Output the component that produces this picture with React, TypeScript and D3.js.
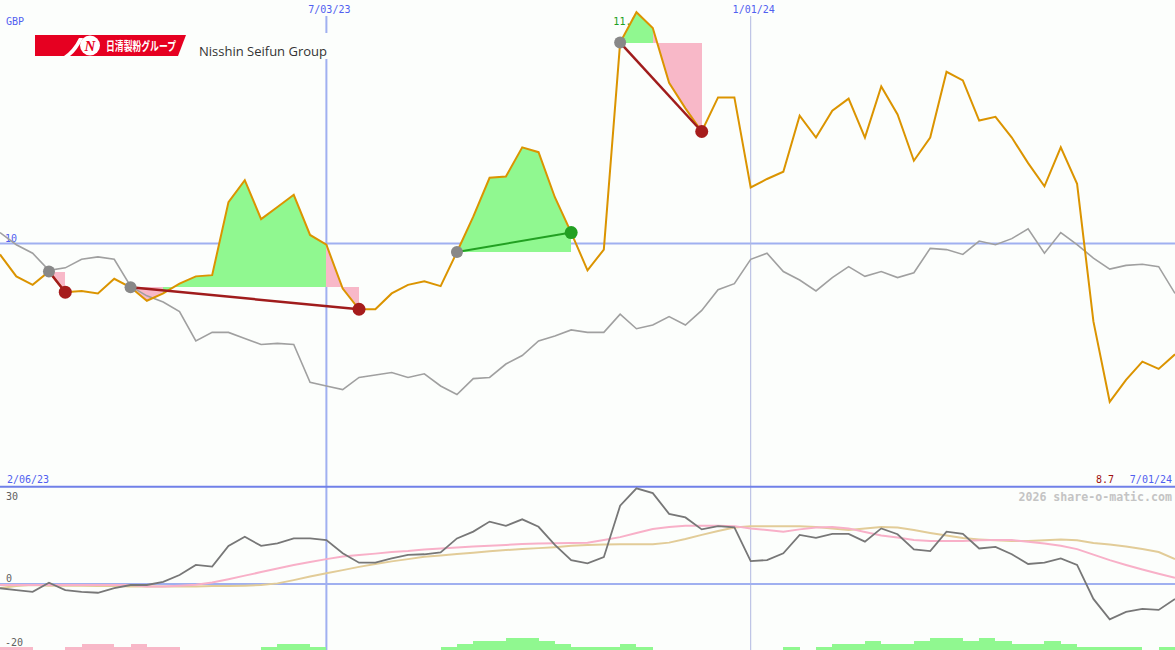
import React from "react";
import * as d3 from "d3";

// ---------- data ----------
const startDate = "2023-02-13";
const endDate = "2024-07-01";
const windowStartLabelDate = "2023-02-06";
const tickDates = ["2023-07-03", "2024-01-01"];
const currency = "GBP";
const companyName = "Nisshin Seifun Group";
const companyNameJa = "日清製粉グループ";
const copyright = "2026 share-o-matic.com";
const priceGridValues = [10];
const oscTickValues = [30, 0, -20];

// weekly close (GBP)
const price = [
  9.91, 9.73, 9.66, 9.77, 9.6, 9.61, 9.59, 9.71, 9.64, 9.53,
  9.59, 9.67, 9.73, 9.74, 10.34, 10.52, 10.2, 10.3, 10.4, 10.07,
  9.99, 9.63, 9.46, 9.46, 9.59, 9.66, 9.69, 9.65, 9.93, 10.22,
  10.54, 10.55, 10.79, 10.75, 10.38, 10.09, 9.78, 9.95, 11.65, 11.9,
  11.77, 11.32, 11.11, 10.92, 11.2, 11.2, 10.46, 10.53, 10.59, 11.05,
  10.87, 11.09, 11.19, 10.87, 11.29, 11.06, 10.68, 10.87, 11.41, 11.34,
  11.01, 11.04, 10.87, 10.66, 10.47, 10.79, 10.49, 9.36, 8.7, 8.88,
  9.03, 8.97, 9.09,
];

// comparison index, rebased to the price scale
const relative = [
  10.09, 9.99, 9.92, 9.78, 9.8, 9.87, 9.89, 9.87, 9.65, 9.57,
  9.52, 9.44, 9.2, 9.27, 9.27, 9.22, 9.17, 9.18, 9.17, 8.86,
  8.83, 8.8, 8.9, 8.92, 8.94, 8.9, 8.93, 8.83, 8.76, 8.89,
  8.9, 9.01, 9.08, 9.2, 9.24, 9.29, 9.27, 9.27, 9.42, 9.3,
  9.33, 9.4, 9.33, 9.45, 9.62, 9.67, 9.87, 9.92, 9.77, 9.7,
  9.61, 9.72, 9.81, 9.73, 9.77, 9.72, 9.76, 9.96, 9.95, 9.91,
  10.02, 9.99, 10.04, 10.12, 9.92, 10.09, 9.99, 9.88, 9.79, 9.82,
  9.83, 9.81, 9.59,
];

// oscillator panel
const momentum = [
  -1.3, -1.9, -2.4, 0.4, -1.9, -2.4, -2.7, -1.3, -0.3, -0.3,
  0.7, 2.8, 5.9, 5.4, 11.8, 14.6, 11.8, 12.6, 14.1, 14.1,
  13.6, 9.5, 6.6, 6.6, 7.9, 9.0, 9.2, 9.8, 14.1, 16.2,
  19.3, 18.0, 20.0, 17.7, 12.1, 7.4, 6.4, 8.3, 24.2, 29.6,
  28.1, 21.7, 20.6, 16.9, 17.9, 17.5, 7.1, 7.4, 9.5, 15.2,
  14.3, 15.5, 15.5, 13.1, 17.2, 15.4, 10.7, 10.2, 16.2, 15.5,
  11.0, 11.5, 9.2, 6.2, 6.6, 7.9, 5.9, -4.6, -10.9, -8.6,
  -7.7, -8.0, -4.6,
];
const fastAverage = [
  -0.3, -0.3, -0.3, -0.3, -0.3, -0.3, -0.3, -0.3, -0.3, -0.8,
  -0.8, -0.5, -0.2, 0.5, 1.5, 2.6, 3.7, 4.8, 5.9, 6.8,
  7.7, 8.5, 9.0, 9.4, 9.9, 10.2, 10.7, 11.0, 11.3, 11.6,
  11.8, 12.1, 12.4, 12.5, 12.6, 12.7, 12.8, 13.6, 14.5, 15.8,
  17.0, 17.6, 18.0, 18.0, 18.0, 17.9, 17.2, 16.7, 16.2, 16.9,
  17.5, 17.6, 17.2, 16.1, 15.0, 14.4, 13.6, 13.3, 13.3, 13.3,
  13.5, 13.6, 13.6, 13.1, 12.5, 11.8, 10.8, 9.1, 7.4, 5.9,
  4.5, 3.2, 1.9,
];
const slowAverage = [
  -1.2, -0.6, -0.3, -0.5, -0.5, -0.5, -0.6, -0.6, -0.8, -0.8,
  -0.8, -0.8, -0.8, -0.6, -0.6, -0.5, -0.3, 0.2, 1.2, 2.3,
  3.3, 4.3, 5.3, 6.2, 7.0, 7.7, 8.4, 8.8, 9.3, 9.7,
  10.1, 10.5, 10.8, 11.1, 11.4, 11.8, 12.1, 12.2, 12.3, 12.3,
  12.3, 12.8, 13.9, 15.2, 16.4, 17.5, 17.9, 17.9, 17.9, 17.9,
  17.6, 17.2, 16.7, 17.2, 17.6, 17.5, 16.7, 15.8, 15.0, 14.2,
  13.8, 13.5, 13.3, 13.3, 13.5, 13.8, 13.5, 12.7, 12.2, 11.6,
  10.8, 9.9, 7.7,
];
// signal histogram (one bar per week interval)
const histogram = [
  -1, -1, 0, 0, -1, -2, -2, -1, -2, -1,
  -1, 0, 0, 0, 0, 0, 1, 2, 2, 1,
  0, 0, 0, 0, 0, 0, 0, 1, 2, 3,
  3, 4, 4, 3, 2, 1, 1, 1, 2, 1,
  0, 0, 0, 0, 0, 0, 0, 0, 1, 0,
  1, 2, 2, 3, 2, 2, 3, 4, 4, 3,
  4, 3, 2, 2, 3, 2, 1, 1, 1, 1,
  0, 1,
];

// trades: indices of entry and exit weeks
const tradeEntries = [3, 8, 28, 38];
const tradeExits = [4, 22, 35, 43];

// ---------- chart ----------
const W = 1175;
const H = 650;
const BG = "#fcfefc";
const TOP_H = 487;

const mono = "'DejaVu Sans Mono', monospace";

export default function App() {
  const parse = d3.utcParse("%Y-%m-%d");
  const fmt = d3.utcFormat("%-m/%d/%y");
  const start = parse(startDate)!;
  const end = parse(endDate)!;
  const dates = d3.utcMonday.range(start, d3.utcDay.offset(end, 1));

  const x = d3.scaleUtc().domain([start, end]).range([0, W]);
  const y = d3.scaleLinear().domain([8, 12]).range([TOP_H, 0]);
  const yo = d3.scaleLinear().domain([-20.4, 30]).range([H, TOP_H]);
  const hh = d3.scaleLinear().domain([0, 4]).range([0, 12]);

  const xi = (i: number) => x(dates[i]);

  const priceLine = d3
    .line<number>()
    .x((_, i) => xi(i))
    .y((d) => y(d));
  const oscLine = d3
    .line<number>()
    .x((_, i) => xi(i))
    .y((d) => yo(d));

  const maxI = d3.maxIndex(price);
  const minV = d3.min(price)!;

  // trade fills
  const fills: { d: string; color: string }[] = [];
  tradeEntries.forEach((e, k) => {
    const ex = tradeExits[k];
    const level = price[e];
    for (let i = e; i < ex; i++) {
      const p = d3.path();
      p.moveTo(xi(i), y(level));
      p.lineTo(xi(i), y(price[i]));
      p.lineTo(xi(i + 1), y(price[i + 1]));
      p.lineTo(xi(i + 1), y(level));
      p.closePath();
      fills.push({
        d: p.toString(),
        color: price[i + 1] >= level ? "#90f890" : "#f8b8c8",
      });
    }
  });

  return (
    <div style={{ position: "absolute", left: 0, top: 0 }}>
      <svg width={W} height={H} style={{ display: "block", background: BG }}>
        <rect x={0} y={0} width={W} height={H} fill={BG} />

        {/* price grid */}
        {priceGridValues.map((v) => (
          <g key={v}>
            <line x1={0} x2={W} y1={y(v)} y2={y(v)} stroke="#a0b0f0" strokeWidth={2} />
            <text x={5} y={y(v) - 2} fontFamily={mono} fontSize={10} fill="#5060f0">
              {v}
            </text>
          </g>
        ))}

        {/* vertical date lines */}
        {tickDates.map((t, k) => {
          const xv = x(parse(t)!);
          return (
            <g key={t}>
              <line
                x1={xv}
                x2={xv}
                y1={16}
                y2={H}
                stroke={k === 0 ? "#a0b0f0" : "#b0b8e0"}
                strokeWidth={k === 0 ? 2 : 1}
              />
              <text x={xv + 3} y={13} textAnchor="middle" fontFamily={mono} fontSize={10} fill="#5060f0">
                {fmt(parse(t)!)}
              </text>
            </g>
          );
        })}

        <text x={6} y={25} fontFamily={mono} fontSize={10} fill="#5060f0">
          {currency}
        </text>

        {/* logo block */}
        <rect x={30} y={33} width={305} height={26} fill={BG} />
        <path d="M35,35 L186,35 L178,56 L35,56 Z" fill="#e60021" />
        <path d="M64,56 Q73,50 79,38 L83,38 Q77,51 70,56 Z" fill="#ffffff" />
        <circle cx={90} cy={45.5} r={10} fill="#ffffff" />
        <text
          x={90}
          y={51}
          textAnchor="middle"
          fontFamily="'Liberation Serif', serif"
          fontStyle="italic"
          fontWeight="bold"
          fontSize={15}
          fill="#e60021"
        >
          N
        </text>
        <text
          x={106}
          y={51}
          fontFamily="'Noto Sans CJK JP', sans-serif"
          fontWeight="bold"
          fontSize={12.5}
          fill="#ffffff"
          textLength={70}
          lengthAdjust="spacingAndGlyphs"
        >
          {companyNameJa}
        </text>
        <text x={199} y={56} fontFamily="'Open Sans', sans-serif" fontSize={13} fill="#333333">
          {companyName}
        </text>

        {/* max label */}
        <text x={xi(maxI) + 1} y={y(price[maxI]) + 13} textAnchor="end" fontFamily={mono} fontSize={10} fill="#20a020">
          {d3.format(".1f")(price[maxI])}
        </text>

        {/* trade fills */}
        {fills.map((f, i) => (
          <path key={i} d={f.d} fill={f.color} stroke="none" shapeRendering="crispEdges" />
        ))}

        {/* comparison + price */}
        <path d={priceLine(relative)!} fill="none" stroke="#a0a0a0" strokeWidth={1.6} />
        <path d={priceLine(price)!} fill="none" stroke="#db9400" strokeWidth={2} />

        {/* trade lines and markers */}
        {tradeEntries.map((e, k) => {
          const ex = tradeExits[k];
          const gain = price[ex] >= price[e];
          return (
            <line
              key={"tl" + k}
              x1={xi(e)}
              y1={y(price[e])}
              x2={xi(ex)}
              y2={y(price[ex])}
              stroke={gain ? "#22a022" : "#a01c1c"}
              strokeWidth={gain ? 2 : 2.5}
            />
          );
        })}
        {tradeEntries.map((e, k) => {
          const ex = tradeExits[k];
          const gain = price[ex] >= price[e];
          return (
            <g key={"td" + k}>
              <circle cx={xi(e)} cy={y(price[e])} r={6} fill="#888888" />
              <circle cx={xi(ex)} cy={y(price[ex])} r={6.5} fill={gain ? "#22a022" : "#a61c1c"} />
            </g>
          );
        })}

        {/* panel separator */}
        <line x1={0} x2={W} y1={TOP_H - 0.25} y2={TOP_H - 0.25} stroke="#7080e8" strokeWidth={2} />
        <text x={7} y={483} fontFamily={mono} fontSize={10} fill="#5060f0">
          {fmt(parse(windowStartLabelDate)!)}
        </text>
        <text x={1172} y={483} textAnchor="end" fontFamily={mono} fontSize={10} fill="#5060f0">
          {fmt(end)}
        </text>
        <text x={1114} y={483} textAnchor="end" fontFamily={mono} fontSize={10} fill="#a01010">
          {d3.format(".1f")(minV)}
        </text>

        {/* oscillator panel */}
        <line x1={0} x2={W} y1={yo(0)} y2={yo(0)} stroke="#a0b0f0" strokeWidth={2} />
        {oscTickValues.map((v) => (
          <text
            key={v}
            x={v < 0 ? 5 : 6}
            y={v === 30 ? yo(v) + 12.5 : yo(v) - 2.5}
            fontFamily={mono}
            fontSize={10}
            fill="#606060"
          >
            {v}
          </text>
        ))}
        <text x={1172} y={501} textAnchor="end" fontFamily={mono} fontSize={11.6} fontWeight="bold" fill="#c4c4c4">
          {copyright}
        </text>

        {histogram.map((v, i) =>
          v === 0 ? null : (
            <rect
              key={"h" + i}
              x={xi(i)}
              y={H - hh(Math.abs(v))}
              width={xi(i + 1) - xi(i)}
              height={hh(Math.abs(v))}
              fill={v > 0 ? "#90f890" : "#f8b8c8"}
              shapeRendering="crispEdges"
            />
          )
        )}

        <path d={oscLine(slowAverage)!} fill="none" stroke="#e2cc98" strokeWidth={2} />
        <path d={oscLine(fastAverage)!} fill="none" stroke="#f8b0c8" strokeWidth={2} />
        <path d={oscLine(momentum)!} fill="none" stroke="#777777" strokeWidth={1.8} />
      </svg>
    </div>
  );
}
